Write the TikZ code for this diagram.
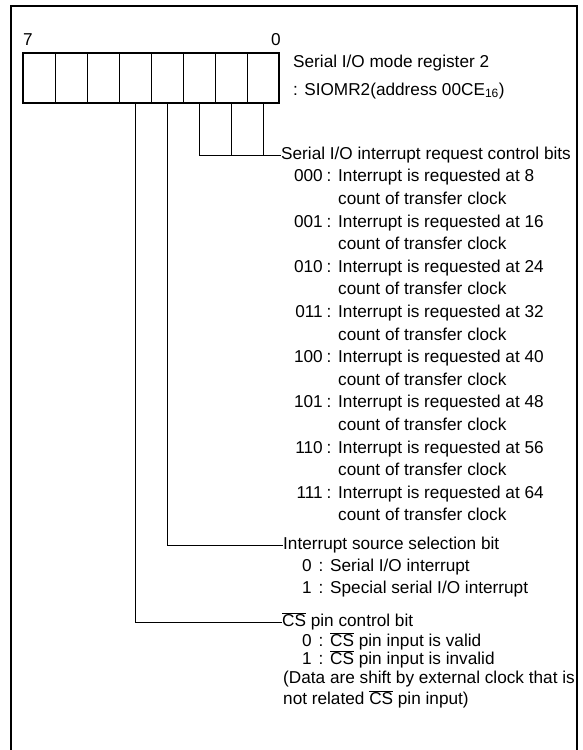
\documentclass[tikz,border=0pt]{standalone}
\usepackage{fontspec}
\setmainfont{Liberation Sans}
\newcommand{\ncs}{$\overline{\mbox{CS}}$}
\begin{document}
\begin{tikzpicture}[x=1pt,y=-1pt,
  txt/.style={anchor=west,inner sep=0pt,text height=12.5pt,text depth=4pt,font=\fontsize{17.2}{20}\selectfont},
  codetxt/.style={anchor=east,inner sep=0pt,text height=12.5pt,text depth=4pt,font=\fontsize{17.2}{20}\selectfont},
  colontxt/.style={anchor=center,inner sep=0pt,text height=12.5pt,text depth=4pt,font=\fontsize{17.2}{20}\selectfont},
  cell/.style={draw,line width=0.7pt,minimum width=32pt,minimum height=50pt,inner sep=0pt,outer sep=0pt},
  conn/.style={line width=0.8pt},
  frameline/.style={line width=1.8pt}]
\useasboundingbox (0,0) rectangle (583,750);
% outer frame
\draw[frameline] (11,750) -- (11,6) -- (577,6) -- (577,750);
% register
\foreach \i in {0,...,7} \node[cell] (b\i) at ({263-32*\i},78) {};
\draw[line width=2.2pt] (b7.north west) rectangle (b0.south east);
\node[txt] (n7) at (23,41) {7};
\node[codetxt] (n0) at (281,41) {0};
\node[txt] (title) at (293,63) {Serial I/O mode register 2};
\node[txt] (addr) at (293,91) {: SIOMR2(address 00CE\textsubscript{16})};
% interrupt request control bits
\node[txt] (t0) at (281,155) {Serial I/O interrupt request control bits};
\foreach \c/\n [count=\k] in {000/8,001/16,010/24,011/32,100/40,101/48,110/56,111/64} {
  \pgfmathsetmacro\ya{155+22.6*(2*\k-1)}
  \pgfmathsetmacro\yb{155+22.6*(2*\k)}
  \node[codetxt] (k\k) at (323,\ya) {\c};
  \node[colontxt] (q\k) at (329,\ya) {:};
  \node[txt] (r\k) at (338,\ya) {Interrupt is requested at \n};
  \node[txt] (s\k) at (338,\yb) {count of transfer clock};
}
% interrupt source selection bit
\node[txt] (src) at (283,545) {Interrupt source selection bit};
\node[codetxt] (src0k) at (312,567) {0};
\node[colontxt] (src0c) at (321,567) {:};
\node[txt] (src0) at (330,567) {Serial I/O interrupt};
\node[codetxt] (src1k) at (312,589) {1};
\node[colontxt] (src1c) at (321,589) {:};
\node[txt] (src1) at (330,589) {Special serial I/O interrupt};
% CS pin control bit
\node[txt] (cs) at (282,622) {\ncs{} pin control bit};
\node[codetxt] (cs0k) at (312,642) {0};
\node[colontxt] (cs0c) at (321,642) {:};
\node[txt] (cs0) at (330,642) {\ncs{} pin input is valid};
\node[codetxt] (cs1k) at (312,660) {1};
\node[colontxt] (cs1c) at (321,660) {:};
\node[txt] (cs1) at (330,660) {\ncs{} pin input is invalid};
\node[txt] (note1) at (283,679) {(Data are shift by external clock that is};
\node[txt] (note2) at (283,700) {not related \ncs{} pin input)};
% connectors
\draw[conn] (b2.south) |- (t0.west);
\draw[conn] (b1.south) -- (b1.south |- t0.west);
\draw[conn] (b0.south) -- (b0.south |- t0.west);
\draw[conn] (b3.south) |- (src.west);
\draw[conn] (b4.south) |- (cs.west);
\end{tikzpicture}
\end{document}
